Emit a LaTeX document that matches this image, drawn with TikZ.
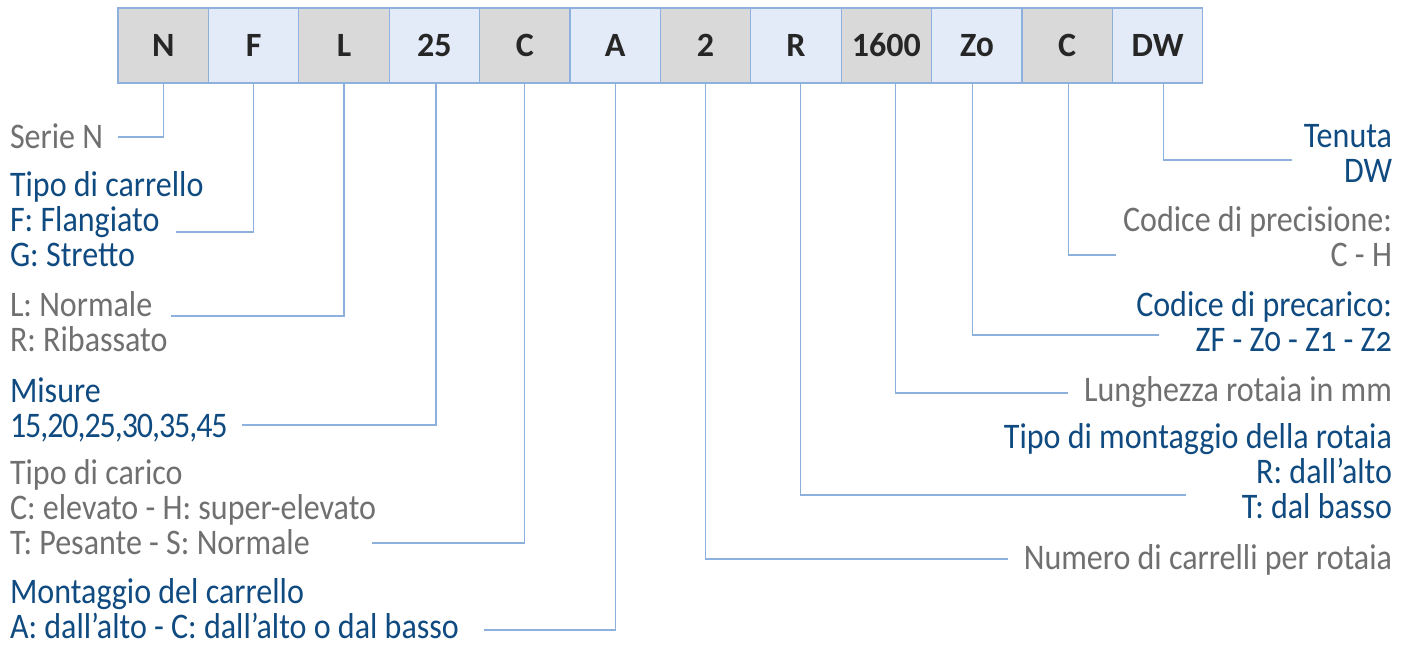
\documentclass[tikz,border=0pt]{standalone}
\usepackage{fontspec}
\setmainfont{Carlito}
\usetikzlibrary{positioning}
\definecolor{codegray}{HTML}{D9D9D9}
\definecolor{codeblue}{HTML}{E4EBF8}
\definecolor{frameblue}{HTML}{8DB0DD}
\definecolor{textblue}{HTML}{0F4A80}
\definecolor{textgray}{HTML}{707070}
\newcommand{\smalldigits}[1]{{\addfontfeature{Numbers=OldStyle}#1}}
\newcommand{\descfont}{\fontsize{36}{35}\selectfont\addfontfeature{FakeStretch=0.89}}

\begin{document}
\begin{tikzpicture}[x=1pt,y=-1pt,
every node/.style={inner sep=0pt,outer sep=0pt},
codebox/.style={draw=frameblue,line width=1.2pt,minimum width=90.4pt,minimum height=75pt,
  font=\fontsize{34}{35}\selectfont\bfseries,text=black!85},
leftdesc/.style={font=\descfont,align=left,anchor=base west},
rightdesc/.style={font=\descfont,align=right,anchor=base east},
link/.style={draw=frameblue,line width=1.2pt}]
\useasboundingbox (0,0) rectangle (1409,645);

%the code, one box per position
\foreach \lbl [count=\i] in {N,F,L,25,C,A,2,R,1600,{Z\smalldigits{0}},C,DW}{
	\ifodd\i \def\boxfill{codegray}\else\def\boxfill{codeblue}\fi
	\ifnum\i=1
		\node[codebox,fill=\boxfill,anchor=north west](p1) at (118,8) {\lbl};
	\else
		\pgfmathtruncatemacro\prev{\i-1}
		\node[codebox,fill=\boxfill,right=0pt of p\prev](p\i) {\lbl};
	\fi
}

%descriptions on the left (base is the last line)
\node[leftdesc,text=textgray](t1) at (10,148) {Serie N};
\node[leftdesc,text=textblue](t2) at (10,266) {Tipo di carrello\\F: Flangiato\\G: Stretto};
\node[leftdesc,text=textgray](t3) at (10,351) {L: Normale\\R: Ribassato};
\node[leftdesc,text=textblue](t4) at (10,437) {Misure\\{\addfontfeature{LetterSpace=-3}15,20,25,30,35,45}};
\node[leftdesc,text=textgray](t5) at (10,554) {Tipo di carico\\C: elevato - H: super-elevato\\T: Pesante - S: Normale};
\node[leftdesc,text=textblue](t6) at (10,638) {Montaggio del carrello\\A: dall’alto - C: dall’alto o dal basso};

%descriptions on the right
\node[rightdesc,text=textgray](t7) at (1392,569) {Numero di carrelli per rotaia};
\node[rightdesc,text=textblue](t8) at (1392,518) {Tipo di montaggio della rotaia\\R: dall’alto\\T: dal basso};
\node[rightdesc,text=textgray](t9) at (1392,401) {Lunghezza rotaia in mm};
\node[rightdesc,text=textblue](t10) at (1392,351) {Codice di precarico:\\ZF - Z\smalldigits{0} - Z\smalldigits{1} - Z\smalldigits{2}};
\node[rightdesc,text=textgray](t11) at (1392,266) {Codice di precisione:\\C - H};
\node[rightdesc,text=textblue](t12) at (1392,182) {Tenuta\\DW};

%free ends of the connectors
\coordinate(e1) at (118,137);
\coordinate(e2) at (176,232);
\coordinate(e3) at (171,316);
\coordinate(e4) at (242,425);
\coordinate(e5) at (372,543);
\coordinate(e6) at (484,630);
\coordinate(e7) at (1008,559);
\coordinate(e8) at (1186,495);
\coordinate(e9) at (1068,393);
\coordinate(e10) at (1159,335);
\coordinate(e11) at (1116,255);
\coordinate(e12) at (1292,160);

%connectors, shift is the offset of the line from the box centre
\foreach \i/\s in {1/0,2/0,3/0,4/1.5,5/0,6/0,7/0,8/4.5,9/9,10/-4.5,11/1,12/5.5}{
	\draw[link] ([xshift=\s pt]p\i.south) |- (e\i);
}
\end{tikzpicture}
\end{document}
